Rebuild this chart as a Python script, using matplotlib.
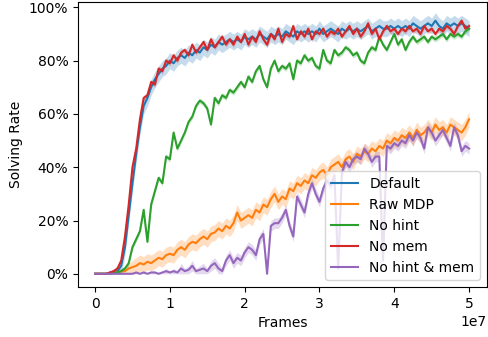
import numpy as np
import matplotlib
matplotlib.use("Agg")
import matplotlib.pyplot as plt
from matplotlib.ticker import PercentFormatter

frame_step = 5e5

default = [0.0, 0.0, 0.0, 0.0, 0.005, 0.005, 0.01,
           0.03, 0.10, 0.22, 0.34, 0.45, 0.55, 0.63, 0.66, 0.70, 0.73, 0.75, 0.77, 0.78,
           0.80, 0.79, 0.81, 0.82, 0.81, 0.83, 0.82, 0.84, 0.83, 0.85, 0.84, 0.86, 0.85, 0.87,
           0.86, 0.87, 0.88, 0.87, 0.88, 0.87, 0.89, 0.88, 0.89, 0.88, 0.90, 0.89, 0.88, 0.90,
           0.89, 0.90, 0.89, 0.91, 0.90, 0.89, 0.91, 0.90, 0.91, 0.90, 0.91, 0.90, 0.92, 0.90,
           0.91, 0.92, 0.91, 0.90, 0.92, 0.91, 0.92, 0.91, 0.92, 0.91, 0.92, 0.93, 0.91, 0.92,
           0.93, 0.92, 0.92, 0.93, 0.92, 0.93, 0.92, 0.93, 0.92, 0.94, 0.93, 0.92, 0.93, 0.94,
           0.93, 0.95, 0.93, 0.92, 0.94, 0.93, 0.94, 0.93, 0.94, 0.93, 0.92]

no_mem = [0.0, 0.0, 0.0, 0.0, 0.005, 0.01, 0.02,
          0.05, 0.14, 0.26, 0.40, 0.47, 0.58, 0.66, 0.67, 0.72, 0.71, 0.77, 0.76, 0.80,
          0.79, 0.82, 0.80, 0.83, 0.84, 0.82, 0.86, 0.83, 0.85, 0.87, 0.84, 0.88, 0.85, 0.87,
          0.89, 0.86, 0.88, 0.86, 0.89, 0.87, 0.90, 0.86, 0.89, 0.87, 0.91, 0.88, 0.86, 0.90,
          0.88, 0.92, 0.87, 0.90, 0.89, 0.93, 0.88, 0.91, 0.89, 0.92, 0.88, 0.91, 0.90, 0.92,
          0.89, 0.91, 0.90, 0.92, 0.89, 0.91, 0.93, 0.90, 0.92, 0.89, 0.91, 0.94, 0.90, 0.92,
          0.88, 0.91, 0.93, 0.91, 0.92, 0.90, 0.92, 0.91, 0.93, 0.91, 0.92, 0.90, 0.93, 0.91,
          0.92, 0.90, 0.92, 0.91, 0.93, 0.92, 0.90, 0.93, 0.95, 0.92, 0.93]

no_hint = [0.0, 0.0, 0.0, 0.0, 0.0, 0.005, 0.005,
           0.01, 0.02, 0.04, 0.10, 0.13, 0.16, 0.24, 0.12, 0.26, 0.31, 0.36, 0.34, 0.44,
           0.43, 0.53, 0.47, 0.50, 0.53, 0.57, 0.59, 0.63, 0.65, 0.64, 0.62, 0.56, 0.66, 0.64,
           0.67, 0.66, 0.69, 0.68, 0.70, 0.72, 0.70, 0.74, 0.72, 0.76, 0.78, 0.73, 0.70, 0.77,
           0.80, 0.76, 0.78, 0.77, 0.79, 0.73, 0.80, 0.79, 0.82, 0.80, 0.81, 0.78, 0.77, 0.84,
           0.80, 0.79, 0.84, 0.82, 0.83, 0.85, 0.84, 0.82, 0.83, 0.80, 0.79, 0.83, 0.85, 0.84,
           0.89, 0.86, 0.84, 0.87, 0.90, 0.86, 0.88, 0.84, 0.87, 0.89, 0.87, 0.88, 0.89, 0.87,
           0.89, 0.88, 0.89, 0.90, 0.88, 0.90, 0.89, 0.90, 0.89, 0.91, 0.92]

raw_mdp = [0.0, 0.0, 0.0, 0.0, 0.0, 0.005, 0.005,
           0.01, 0.01, 0.02, 0.025, 0.03, 0.04, 0.035, 0.045, 0.04, 0.05, 0.06, 0.055, 0.07,
           0.075, 0.07, 0.09, 0.10, 0.09, 0.11, 0.12, 0.115, 0.13, 0.14, 0.13, 0.15, 0.155, 0.17,
           0.16, 0.18, 0.17, 0.19, 0.23, 0.20, 0.21, 0.22, 0.21, 0.24, 0.23, 0.26, 0.25, 0.28,
           0.30, 0.27, 0.29, 0.28, 0.32, 0.31, 0.34, 0.33, 0.35, 0.34, 0.37, 0.36, 0.38, 0.39,
           0.37, 0.40, 0.41, 0.42, 0.40, 0.43, 0.44, 0.42, 0.45, 0.44, 0.46, 0.45, 0.47, 0.46,
           0.48, 0.47, 0.50, 0.49, 0.51, 0.50, 0.52, 0.51, 0.53, 0.51, 0.54, 0.52, 0.53, 0.55,
           0.53, 0.56, 0.54, 0.55, 0.53, 0.56, 0.55, 0.54, 0.53, 0.55, 0.58]

no_hint_mem = [0.0, 0.0, 0.0, 0.0, 0.0, 0.0, 0.0,
               0.0, 0.0, 0.0, 0.0, 0.005, 0.0, 0.005, 0.0, 0.005, 0.005, 0.0, 0.005, 0.01,
               0.005, 0.01, 0.005, 0.02, 0.01, 0.015, 0.03, 0.01, 0.015, 0.02, 0.01, 0.03, 0.04, 0.02,
               0.01, 0.05, 0.07, 0.04, 0.06, 0.05, 0.08, 0.10, 0.09, 0.07, 0.13, 0.15, 0.0, 0.18,
               0.19, 0.19, 0.21, 0.24, 0.18, 0.14, 0.29, 0.26, 0.23, 0.30, 0.34, 0.30, 0.27, 0.32,
               0.35, 0.33, 0.37, 0.02, 0.38, 0.42, 0.40, 0.43, 0.44, 0.43, 0.47, 0.45, 0.42, 0.44,
               0.44, 0.05, 0.48, 0.47, 0.49, 0.48, 0.50, 0.49, 0.52, 0.50, 0.53, 0.51, 0.47, 0.55,
               0.53, 0.50, 0.52, 0.54, 0.51, 0.48, 0.55, 0.52, 0.46, 0.48, 0.47]

series = [
    ("Default", default, "#1f77b4", 0.03),
    ("Raw MDP", raw_mdp, "#ff7f0e", 0.03),
    ("No hint", no_hint, "#2ca02c", 0.01),
    ("No mem", no_mem, "#d62728", 0.01),
    ("No hint & mem", no_hint_mem, "#9467bd", 0.02),
]

fig = plt.figure(figsize=(4.88, 3.37), dpi=100)
ax = fig.add_axes([0.16, 0.148, 0.838, 0.846])

for name, vals, color, spread in series:
    y = np.asarray(vals)
    x = np.arange(len(y)) * frame_step
    half = np.minimum(spread, y)
    ax.fill_between(x, y - half, np.clip(y + half, 0, 1),
                    color=color, alpha=0.25, linewidth=0)
    ax.plot(x, y, color=color, lw=1.5, label=name)

ax.set_xlim(-0.227e7, 5.24e7)
ax.set_ylim(-0.05, 1.02)
ax.yaxis.set_major_formatter(PercentFormatter(1.0, decimals=0))
ax.set_xlabel("Frames")
ax.set_ylabel("Solving Rate")
ax.legend(loc="lower right")

fig.savefig("out.png", dpi=100)
